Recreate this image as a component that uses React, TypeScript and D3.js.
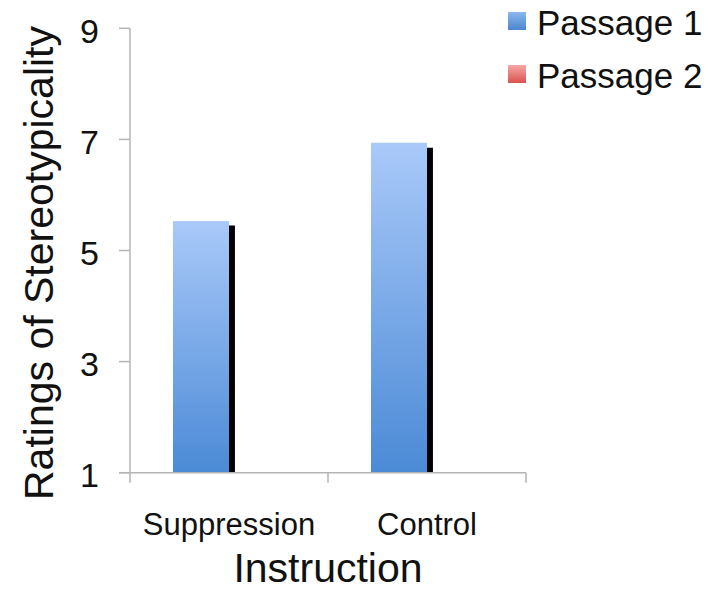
import React from "react";
import * as d3 from "d3";

const categories = ["Suppression", "Control"];
const passage1 = [5.53, 6.94];
const passage2 = [5.45, 6.85];
const yTicks = [1, 3, 5, 7, 9];
const seriesNames = ["Passage 1", "Passage 2"];

const W = 726;
const H = 590;
const FONT = "Liberation Sans, Arial, Helvetica, sans-serif";

export default function App() {
  const x = d3.scaleBand<string>().domain(categories).range([130, 526]).padding(0);
  const y = d3.scaleLinear().domain([1, 9]).range([472.7, 28.3]);
  const bw = x.bandwidth();
  const mainW = bw * 0.283;
  const sideW = bw * 0.03;
  const axisColor = "#b4b4b4";

  return (
    <svg
      width={W}
      height={H}
      style={{ position: "absolute", left: 0, top: 0, background: "#fff" }}
      fontFamily={FONT}
    >
      <defs>
        <linearGradient id="barBlue" x1="0" y1="0" x2="0" y2="1">
          <stop offset="0%" stopColor="#a9c9f9" />
          <stop offset="100%" stopColor="#4b8ad6" />
        </linearGradient>
        <linearGradient id="swBlue" x1="0" y1="0" x2="0" y2="1">
          <stop offset="0%" stopColor="#8cb8ee" />
          <stop offset="100%" stopColor="#4a86cf" />
        </linearGradient>
        <linearGradient id="swRed" x1="0" y1="0" x2="0" y2="1">
          <stop offset="0%" stopColor="#f6a8a6" />
          <stop offset="100%" stopColor="#d9534f" />
        </linearGradient>
      </defs>

      {/* bars */}
      {categories.map((c, i) => {
        const center = (x(c) as number) + bw / 2;
        return (
          <g key={c}>
            <rect
              x={center - mainW}
              y={y(passage1[i])}
              width={mainW}
              height={y(1) - y(passage1[i])}
              fill="url(#barBlue)"
            />
            <rect
              x={center}
              y={y(passage2[i])}
              width={sideW}
              height={y(1) - y(passage2[i])}
              fill="#000"
            />
          </g>
        );
      })}

      {/* y axis */}
      <line x1={130} x2={130} y1={y(9)} y2={y(1)} stroke={axisColor} strokeWidth={1.5} />
      {yTicks.map((t) => (
        <g key={t}>
          <line x1={119} x2={130} y1={y(t)} y2={y(t)} stroke={axisColor} strokeWidth={1.5} />
          <text
            x={99}
            y={y(t)}
            dy="0.42em"
            textAnchor="end"
            fontSize={34}
            fill="#111"
          >
            {t}
          </text>
        </g>
      ))}

      {/* x axis */}
      <line x1={119} x2={526} y1={y(1)} y2={y(1)} stroke={axisColor} strokeWidth={1.5} />
      {[...categories.map((c) => x(c) as number), 526].map((px, i) => (
        <line key={i} x1={px} x2={px} y1={y(1)} y2={y(1) + 10} stroke={axisColor} strokeWidth={1.5} />
      ))}
      {categories.map((c) => (
        <text
          key={c}
          x={(x(c) as number) + bw / 2}
          y={535}
          textAnchor="middle"
          fontSize={31}
          fill="#111"
        >
          {c}
        </text>
      ))}

      {/* axis titles */}
      <text x={328} y={582} textAnchor="middle" fontSize={41} fill="#111">
        Instruction
      </text>
      <text
        transform="translate(53,263) rotate(-90)"
        textAnchor="middle"
        fontSize={41}
        fill="#111"
      >
        Ratings of Stereotypicality
      </text>

      {/* legend */}
      {seriesNames.map((s, i) => (
        <g key={s} transform={`translate(508, ${12 + i * 53})`}>
          <rect width={18} height={18} fill={i === 0 ? "url(#swBlue)" : "url(#swRed)"} />
          <text x={29} y={23} fontSize={35} fill="#111">
            {s}
          </text>
        </g>
      ))}
    </svg>
  );
}
